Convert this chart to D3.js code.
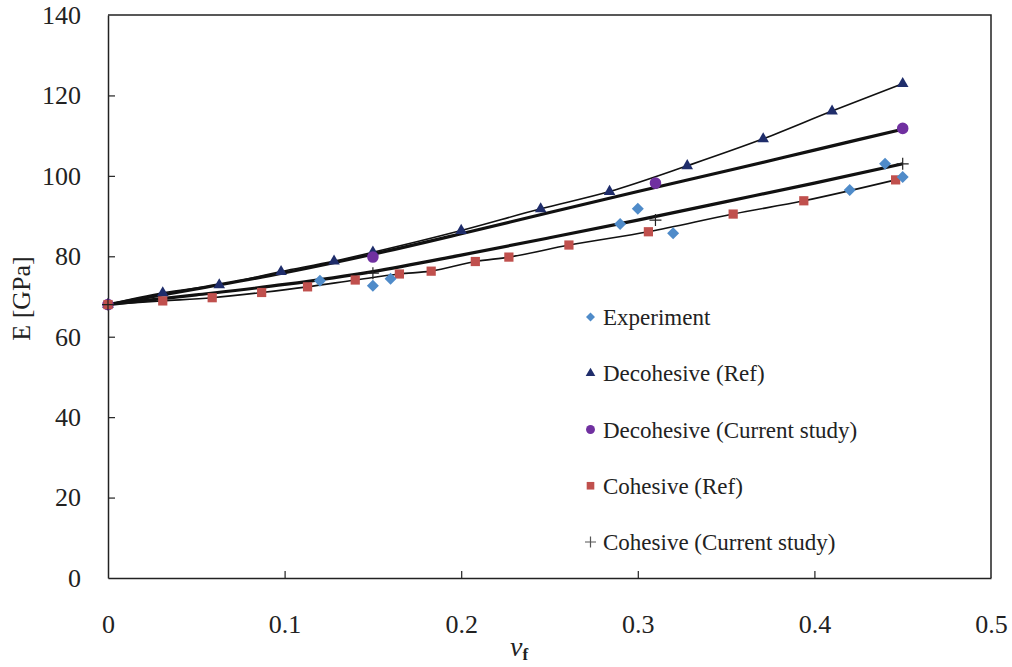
<!DOCTYPE html>
<html>
<head>
<meta charset="utf-8">
<script src="https://cdn.jsdelivr.net/npm/d3@7"></script>
<style>
  body { margin: 0; background: #fff; }
  svg text { font-family: 'Liberation Serif', 'DejaVu Serif'; fill: #222; }
</style>
</head>
<body>
<div id="vis"></div>
<script>
// values
const expV = [0.12, 0.15, 0.16, 0.29, 0.30, 0.32, 0.42, 0.44, 0.45];
const expE = [73.9, 72.7, 74.4, 88.0, 91.8, 85.7, 96.5, 103.0, 99.7];

const decRefV = [0, 0.031, 0.063, 0.098, 0.128, 0.15, 0.2, 0.245, 0.284, 0.328, 0.371, 0.41, 0.45];
const decRefE = [68, 70.9, 72.9, 76.2, 78.8, 81.0, 86.4, 91.8, 96.1, 102.5, 109.2, 116.1, 122.9];

const decCurV = [0, 0.15, 0.31, 0.45];
const decCurE = [68, 79.8, 98.2, 111.8];

const cohRefV = [0, 0.031, 0.059, 0.087, 0.113, 0.14, 0.165, 0.183, 0.208, 0.227, 0.261, 0.306, 0.354, 0.394, 0.446];
const cohRefE = [68, 68.9, 69.7, 71.0, 72.4, 74.1, 75.6, 76.3, 78.7, 79.8, 82.8, 86.1, 90.5, 93.8, 99.0];

const cohCurV = [0, 0.15, 0.31, 0.45];
const cohCurE = [68, 75.8, 89.0, 103.0];

// thick trend lines of the current study, read along their length
const trendV = [0, 0.05, 0.1, 0.15, 0.2, 0.25, 0.3, 0.35, 0.4, 0.45];
const decTrendE = [68, 71.9, 75.9, 80.5, 85.6, 90.9, 96.1, 101.2, 106.4, 111.6];
const cohTrendE = [68, 70.4, 73.0, 76.2, 80.3, 84.6, 89.0, 93.6, 98.2, 103.0];

const xTicks = [0, 0.1, 0.2, 0.3, 0.4, 0.5];
const yTicks = [0, 20, 40, 60, 80, 100, 120, 140];

const legendNames = ['Experiment', 'Decohesive (Ref)', 'Decohesive (Current study)', 'Cohesive (Ref)', 'Cohesive (Current study)'];

const zip = (a, b) => a.map((v, i) => ({ v: v, e: b[i] }));
const FONT = "'Liberation Serif', 'DejaVu Serif'";

const width = 1012, height = 667;
const svg = d3.select('#vis').append('svg')
  .attr('width', width)
  .attr('height', height)
  .attr('font-family', FONT);

const x = d3.scaleLinear().domain([0, 0.5]).range([108, 991]);
const y = d3.scaleLinear().domain([0, 140]).range([578, 15]);

// plot frame (top and right)
svg.append('path')
  .attr('d', `M${x(0)},${y(140)}H${x(0.5)}V${y(0)}`)
  .attr('fill', 'none').attr('stroke', '#222').attr('stroke-width', 1.5);

const xAxis = d3.axisBottom(x).tickValues(xTicks).tickSizeInner(-7).tickSizeOuter(0)
  .tickPadding(37).tickFormat(d => d === 0 ? '0' : d3.format('.1f')(d));
const yAxis = d3.axisLeft(y).tickValues(yTicks).tickSizeInner(-7).tickSizeOuter(0)
  .tickPadding(27);

const gx = svg.append('g').attr('transform', `translate(0,${y(0)})`).call(xAxis);
const gy = svg.append('g').attr('transform', `translate(${x(0)},0)`).call(yAxis);
[gx, gy].forEach(g => {
  g.attr('font-family', FONT).attr('font-size', 26);
  g.select('.domain').attr('stroke', '#222').attr('stroke-width', 1.5);
  g.selectAll('.tick line').attr('stroke', '#222').attr('stroke-width', 1.2);
  g.selectAll('.tick text').attr('fill', '#222');
});
gx.selectAll('.tick').filter(d => d === 0 || d === 0.5).select('line').remove();
gy.selectAll('.tick').filter(d => d === 0 || d === 140).select('line').remove();

// axis titles
svg.append('text')
  .attr('transform', `translate(30,${(y(0) + y(140)) / 2 + 2}) rotate(-90)`)
  .attr('text-anchor', 'middle')
  .attr('font-size', 26)
  .text('E [GPa]');

const xt = svg.append('text').attr('x', 510).attr('y', 656).attr('font-size', 28);
xt.append('tspan').attr('font-style', 'italic').text('v');
xt.append('tspan').attr('font-size', 17).attr('font-weight', 'bold').attr('dy', 4).text('f');

// lines
const line = d3.line().x(d => x(d.v)).y(d => y(d.e)).curve(d3.curveMonotoneX);
const lines = [
  { data: zip(decRefV, decRefE), w: 1.6 },
  { data: zip(trendV, decTrendE), w: 3.2 },
  { data: zip(cohRefV, cohRefE), w: 1.6 },
  { data: zip(trendV, cohTrendE), w: 3.2 }
];
svg.selectAll('.fit').data(lines).join('path')
  .attr('class', 'fit')
  .attr('d', d => line(d.data))
  .attr('fill', 'none')
  .attr('stroke', '#111')
  .attr('stroke-width', d => d.w);

// markers
const shapes = {
  diamond: { type: d3.symbolSquare, rot: 45 },
  triangle: { type: d3.symbolTriangle, rot: 0 },
  circle: { type: d3.symbolCircle, rot: 0 },
  square: { type: d3.symbolSquare, rot: 0 }
};
const plotSize = { diamond: 72, triangle: 58, circle: 105, square: 85 };
const legendSize = { diamond: 40, triangle: 40, circle: 62, square: 58 };

function marker(g, kind, cx, cy, size, color) {
  if (kind === 'plus') {
    const h = size;
    g.append('path')
      .attr('d', `M${cx - h},${cy}h${2 * h}M${cx},${cy - h}v${2 * h}`)
      .attr('stroke', color).attr('stroke-width', 1.2).attr('fill', 'none');
  } else {
    g.append('path')
      .attr('transform', `translate(${cx},${cy}) rotate(${shapes[kind].rot})`)
      .attr('d', d3.symbol().type(shapes[kind].type).size(size)())
      .attr('fill', color);
  }
}

function drawMarkers(data, kind, color) {
  const g = svg.append('g');
  data.forEach(d => marker(g, kind, x(d.v), y(d.e), kind === 'plus' ? 6 : plotSize[kind], color));
}

drawMarkers(zip(decRefV, decRefE), 'triangle', '#1f2d6b');
drawMarkers(zip(decCurV, decCurE), 'circle', '#7030a0');
drawMarkers(zip(cohRefV, cohRefE), 'square', '#c0504d');
drawMarkers(zip(cohCurV, cohCurE), 'plus', '#222');
drawMarkers(zip(expV, expE), 'diamond', '#4f8bc9');

// legend
const legendKinds = ['diamond', 'triangle', 'circle', 'square', 'plus'];
const legendColors = ['#4f8bc9', '#1f2d6b', '#7030a0', '#c0504d', '#555'];
const legendY = d3.scalePoint().domain(legendNames).range([317, 542]);
const lg = svg.append('g');
legendNames.forEach((name, i) => {
  const cy = legendY(name);
  const k = legendKinds[i];
  marker(lg, k, 590.5, cy, k === 'plus' ? 5.5 : legendSize[k], legendColors[i]);
  lg.append('text')
    .attr('x', 603)
    .attr('y', cy)
    .attr('dy', '0.35em')
    .attr('font-size', 23)
    .text(name);
});
</script>
</body>
</html>
